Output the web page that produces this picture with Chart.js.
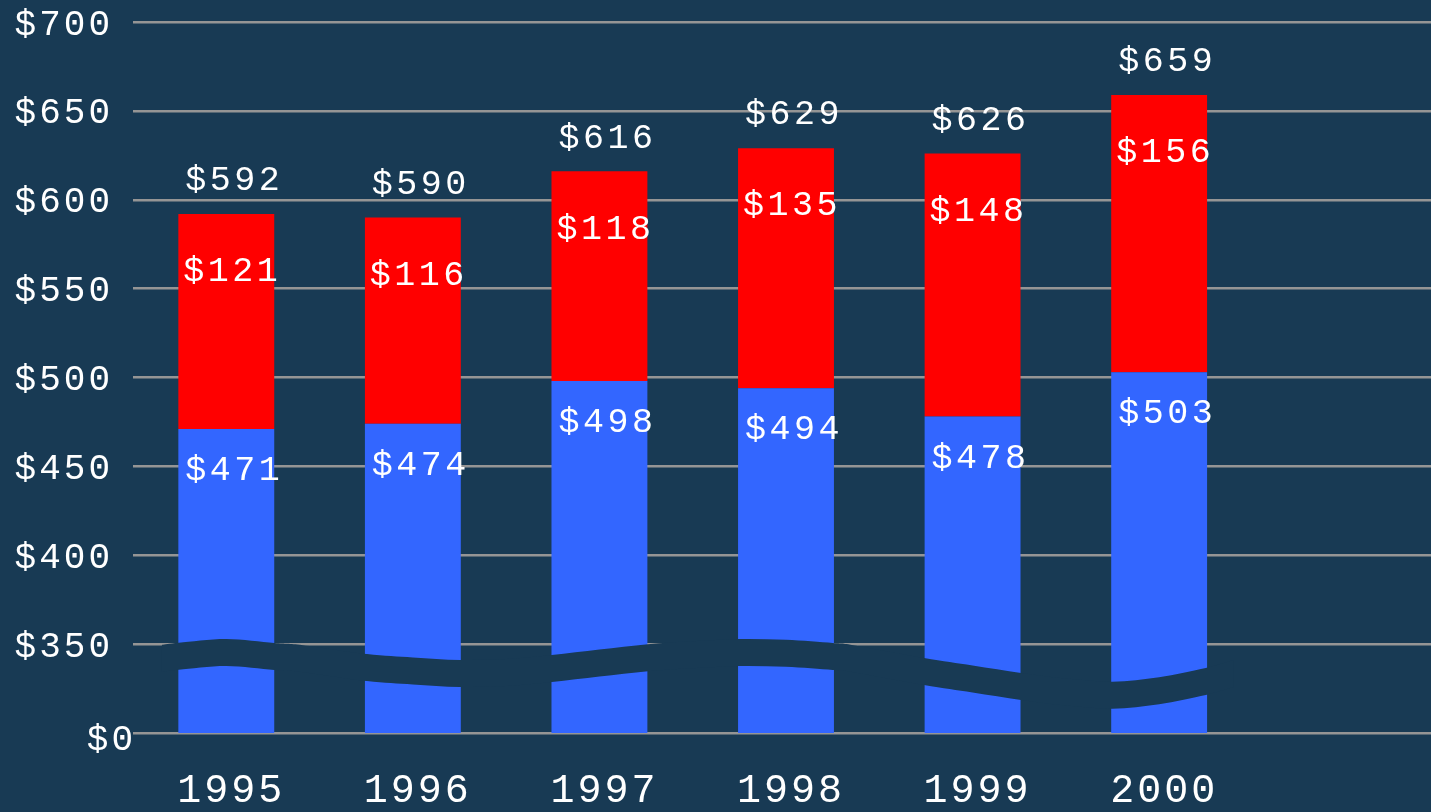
<!DOCTYPE html>
<html lang="en">
<head>
    <meta charset="UTF-8">
    <title>Stacked bars with axis break</title>
    <script src="https://cdn.jsdelivr.net/npm/chart.js"></script>
    <style>
        html, body { margin: 0; padding: 0; background: #183a54; overflow: hidden; }
        canvas { display: block; }
    </style>
</head>
<body>
    <!-- a few px wider than the window: the plot runs off the right edge like the original -->
    <canvas id="chart" width="1439" height="812"></canvas>
    <script>
        // Data
        const years = ['1995', '1996', '1997', '1998', '1999', '2000', ''];
        const lowerValues = [471, 474, 498, 494, 478, 503];
        const upperValues = [121, 116, 118, 135, 148, 156];
        const totals = [592, 590, 616, 629, 626, 659];

        // The axis jumps from $0 straight to $350, so the bottom gridline stands in for $0
        const axisFloor = 300;
        const axisTop = 700;
        const axisStep = 50;

        // Wavy break band across the bars: [category index, value of the upper edge]
        const breakWave = [
            [-0.345, 349.6], [-0.254, 350.8], [0, 352.9], [0.257, 350.6], [0.41, 349.4],
            [0.754, 344.4], [1.0, 342.5], [1.252, 341.1], [1.5, 341.6], [1.745, 343.9],
            [2.0, 347], [2.26, 350.0], [2.5, 351.6], [2.75, 352.9], [3.0, 352.4],
            [3.25, 350.6], [3.36, 349.4], [3.74, 342.2], [4.0, 338], [4.26, 333.8],
            [4.5, 330.6], [4.75, 328.9], [5.0, 331.4], [5.25, 336.6], [5.4, 341]
        ];

        const BG = '#183a54';
        const BLUE = '#3366ff';
        const RED = '#ff0000';
        const FONT = '"Liberation Mono", monospace';

        function smoothPath(ctx, pts, move) {
            if (move) ctx.moveTo(pts[0][0], pts[0][1]);
            else ctx.lineTo(pts[0][0], pts[0][1]);
            for (let i = 0; i < pts.length - 1; i++) {
                const p0 = pts[Math.max(i - 1, 0)];
                const p1 = pts[i];
                const p2 = pts[i + 1];
                const p3 = pts[Math.min(i + 2, pts.length - 1)];
                ctx.bezierCurveTo(
                    p1[0] + (p2[0] - p0[0]) / 6, p1[1] + (p2[1] - p0[1]) / 6,
                    p2[0] - (p3[0] - p1[0]) / 6, p2[1] - (p3[1] - p1[1]) / 6,
                    p2[0], p2[1]
                );
            }
        }

        const breakAndLabels = {
            id: 'breakAndLabels',
            beforeUpdate(chart) { chart.ctx.letterSpacing = '3px'; },
            beforeDraw(chart) { chart.ctx.letterSpacing = '3px'; },
            afterDatasetsDraw(chart) {
                const ctx = chart.ctx;
                const xs = chart.scales.x;
                const ys = chart.scales.y;
                const band = 27;

                // break band
                const upper = breakWave.map(p => [xs.getPixelForValue(p[0]), ys.getPixelForValue(p[1])]);
                const lower = upper.map(p => [p[0], p[1] + band]).reverse();
                ctx.save();
                ctx.beginPath();
                smoothPath(ctx, upper, true);
                smoothPath(ctx, lower, false);
                ctx.closePath();
                ctx.fillStyle = BG;
                ctx.fill();
                ctx.restore();

                // value labels
                ctx.save();
                ctx.letterSpacing = '3.5px';
                ctx.font = '35px ' + FONT;
                ctx.fillStyle = '#ffffff';
                ctx.textAlign = 'center';
                ctx.textBaseline = 'middle';
                const lowMeta = chart.getDatasetMeta(0);
                const upMeta = chart.getDatasetMeta(1);
                lowerValues.forEach((v, i) => {
                    const b = lowMeta.data[i];
                    const r = upMeta.data[i];
                    ctx.fillText('$' + v, b.x + 8, b.y + 42);
                    ctx.fillText('$' + upperValues[i], r.x + 6, r.y + 58);
                    ctx.fillText('$' + totals[i], r.x + 8, r.y - 33);
                });

                // the $0 label sits a little further right and lower than the others
                ctx.letterSpacing = '3px';
                ctx.font = '36px ' + FONT;
                ctx.textAlign = 'right';
                ctx.fillText('$0', ys.right + 3, ys.getPixelForValue(axisFloor) + 7);
                ctx.restore();
            }
        };

        new Chart(document.getElementById('chart'), {
            type: 'bar',
            data: {
                labels: years,
                datasets: [
                    { label: 'lower', data: lowerValues, backgroundColor: BLUE },
                    { label: 'upper', data: upperValues, backgroundColor: RED }
                ]
            },
            options: {
                responsive: false,
                animation: false,
                events: [],
                layout: { padding: 0 },
                plugins: { legend: { display: false }, tooltip: { enabled: false } },
                datasets: { bar: { categoryPercentage: 1, barPercentage: 0.514 } },
                scales: {
                    x: {
                        stacked: true,
                        grid: { display: false, drawTicks: false },
                        border: { display: false },
                        ticks: {
                            color: '#ffffff',
                            font: { family: FONT, size: 40, lineHeight: 1.1 },
                            padding: 36,
                            labelOffset: 5,
                            maxRotation: 0,
                            autoSkip: false
                        },
                        afterFit(scale) { scale.height = 79; }
                    },
                    y: {
                        stacked: true,
                        min: axisFloor,
                        max: axisTop,
                        grid: { color: '#959595', lineWidth: 2.5, drawTicks: false },
                        border: { display: false },
                        ticks: {
                            stepSize: axisStep,
                            color: c => c.tick && c.tick.value === axisFloor ? 'rgba(0,0,0,0)' : '#ffffff',
                            font: { family: FONT, size: 36 },
                            padding: 20,
                            labelOffset: 3,
                            callback: v => v === axisFloor ? '$0' : '$' + v
                        },
                        afterFit(scale) {
                            scale.width = 133;
                            scale.paddingTop = 22;
                            scale.paddingBottom = 0;
                        }
                    }
                }
            },
            plugins: [breakAndLabels]
        });
    </script>
</body>
</html>
